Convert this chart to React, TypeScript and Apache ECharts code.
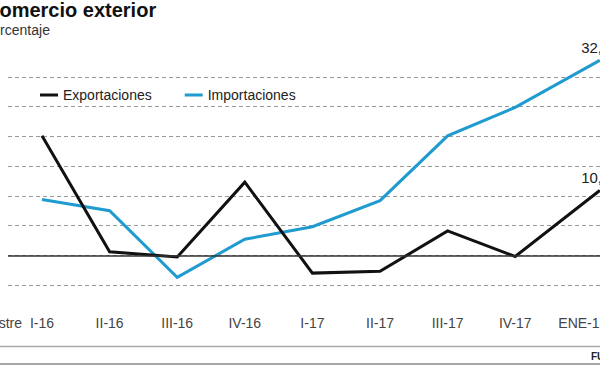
import React, { useEffect, useRef } from "react";
import * as echarts from "echarts";

const categories = ["I-16", "II-16", "III-16", "IV-16", "I-17", "II-17", "III-17", "IV-17", "ENE-18"];
// position of each period along the time axis (ENE-18 sits a bit further out)
const periodPos = [0, 1, 2, 3, 4, 5, 6, 7, 8.25];
// where each period's tick label sits on that axis
const labelPos = [0, 1, 2, 3, 4, 5, 6, 7, 8];
const exportaciones = [20.1, 0.6, -0.3, 12.3, -3.0, -2.7, 4.1, -0.2, 10.9];
const importaciones = [9.4, 7.5, -3.7, 2.7, 4.8, 9.2, 20.1, 24.9, 32.8];
const yTicks = { min: -5, max: 30, interval: 5 };

const FONT = "'Liberation Sans', Arial, sans-serif";
const X_MIN = -0.503;
const X_MAX = 8.254;

function pairs(vals: number[]) {
  return vals.map((v, i) => {
    const last = i === vals.length - 1;
    const item: any = { value: [periodPos[i], v], symbol: last ? "circle" : "none", symbolSize: last ? 1 : 0 };
    if (last) {
      item.label = {
        show: true,
        position: "top",
        distance: 5,
        offset: [-4, 0],
        formatter: () => v.toFixed(1).replace(".", ","),
        fontSize: 15,
        fontFamily: FONT,
        color: "#222",
      };
    }
    return item;
  });
}

export default function App() {
  const ref = useRef<HTMLDivElement>(null);
  useEffect(() => {
    if (!ref.current) return;
    const chart = echarts.init(ref.current, null, { renderer: "svg" });
    chart.setOption({
      animation: false,
      backgroundColor: "#fff",
      textStyle: { fontFamily: FONT },
      grid: { left: 8, top: 77, width: 592, height: 208, containLabel: false, outerBoundsMode: "none" },
      legend: {
        left: 35,
        top: 83,
        icon: "rect",
        itemWidth: 18,
        itemHeight: 3,
        itemGap: 33,
        textStyle: { fontSize: 14, color: "#222", fontFamily: FONT },
        data: ["Exportaciones", "Importaciones"],
      },
      xAxis: {
        type: "value",
        min: X_MIN,
        max: X_MAX,
        axisLine: { show: false },
        axisTick: { show: false },
        splitLine: { show: false },
        axisLabel: {
          show: true,
          customValues: labelPos,
          margin: 31,
          fontSize: 14,
          color: "#444",
          fontFamily: FONT,
          showMinLabel: true,
          showMaxLabel: true,
          formatter: (val: number) => {
            const idx = labelPos.findIndex((p) => Math.abs(p - val) < 1e-6);
            return idx >= 0 ? categories[idx] : "";
          },
        },
      },
      yAxis: {
        type: "value",
        min: yTicks.min,
        max: yTicks.max,
        interval: yTicks.interval,
        axisLine: { show: false },
        axisTick: { show: false },
        axisLabel: { show: false },
        splitLine: { show: true, lineStyle: { color: "#999", type: [4, 3], width: 1 } },
      },
      series: [
        {
          name: "Exportaciones",
          type: "line",
          data: pairs(exportaciones),
          showSymbol: true,
          clip: false,
          color: "#111",
          lineStyle: { width: 3, color: "#111", join: "miter" },
          z: 3,
          markLine: {
            silent: true,
            symbol: "none",
            label: { show: false },
            lineStyle: { color: "#333", type: "solid", width: 1.5 },
            data: [
              { yAxis: 0 },
              [{ coord: [X_MIN, 0] }, { coord: [X_MIN, 30.7] }],
            ],
          },
        },
        {
          name: "Importaciones",
          type: "line",
          data: pairs(importaciones),
          showSymbol: true,
          clip: false,
          color: "#1f9bcf",
          lineStyle: { width: 3, color: "#1f9bcf", join: "miter" },
          z: 2,
        },
      ],
      graphic: [
        { type: "text", x: -15, y: 0, style: { text: "Comercio exterior", font: `bold 20px ${FONT}`, fill: "#111" } },
        { type: "text", x: -17, y: 23, style: { text: "Porcentaje", font: `14px ${FONT}`, fill: "#333" } },
        { type: "text", x: 22, y: 316, style: { text: "Trimestre", font: `14px ${FONT}`, fill: "#444", align: "right" } },
        { type: "line", shape: { x1: 0, y1: 346.5, x2: 600, y2: 346.5 }, style: { stroke: "#aaa", lineWidth: 1.5 } },
        { type: "text", x: 591, y: 351, style: { text: "FUENTE: INE", font: `bold 10px ${FONT}`, fill: "#222" } },
        { type: "line", shape: { x1: 0, y1: 364, x2: 600, y2: 364 }, style: { stroke: "#888", lineWidth: 1.5 } },
      ],
    });
    return () => chart.dispose();
  }, []);
  return <div ref={ref} style={{ position: "fixed", left: 0, top: 0, width: 600, height: 365 }} />;
}
